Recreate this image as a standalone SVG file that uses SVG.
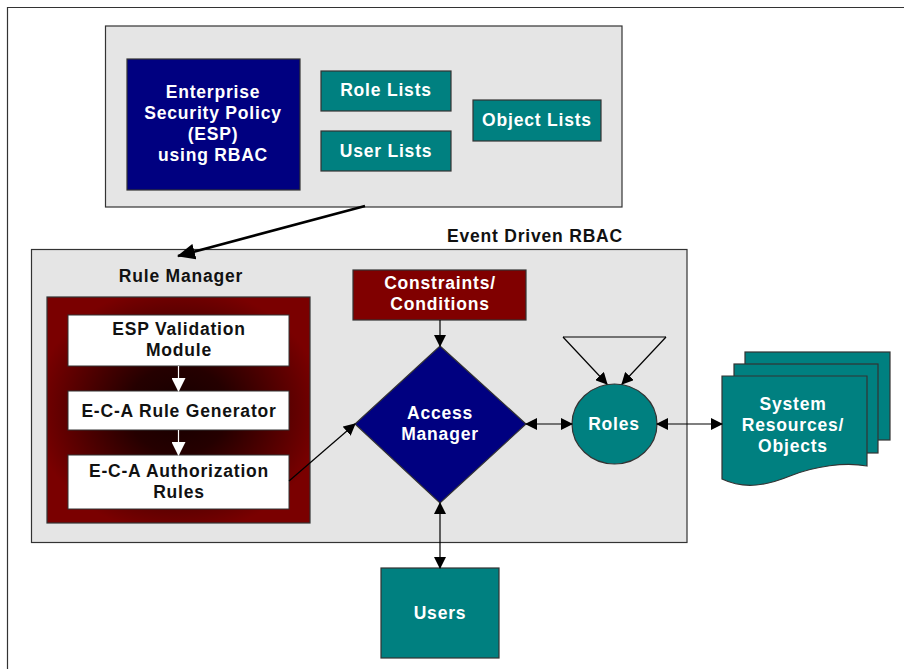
<svg xmlns="http://www.w3.org/2000/svg" width="904" height="669" viewBox="0 0 904 669">
<style>
  text { font-family: "Liberation Sans", Arial, sans-serif; font-weight: bold; font-size: 17.5px; letter-spacing: 0.8px; text-anchor: middle; }
  .w { fill: #ffffff; }
  .k { fill: #111111; }
  .panel { fill: #e5e5e5; stroke: #333333; stroke-width: 1.2; }
  .teal { fill: #008080; stroke: #333333; stroke-width: 1.2; }
  .navy { fill: #000080; stroke: #333333; stroke-width: 1.2; }
  .maroon { fill: #800000; stroke: #333333; stroke-width: 1.2; }
  .white { fill: #ffffff; stroke: #333333; stroke-width: 1; }
  .conn { fill: none; stroke: #000000; stroke-width: 1.2; }
</style>
<defs>
  <marker id="ah" markerUnits="userSpaceOnUse" markerWidth="12" markerHeight="12" refX="11" refY="6" orient="auto-start-reverse" viewBox="0 0 12 12">
    <path d="M0,0 L12,6 L0,12 z" fill="#000000"/>
  </marker>
  <marker id="ahBig" markerUnits="userSpaceOnUse" markerWidth="18" markerHeight="16" refX="17" refY="8" orient="auto" viewBox="0 0 18 16">
    <path d="M0,0 L18,8 L0,16 z" fill="#000000"/>
  </marker>
  <marker id="ahWhite" markerUnits="userSpaceOnUse" markerWidth="14" markerHeight="14" refX="13" refY="7" orient="auto" viewBox="0 0 14 14">
    <path d="M0,0 L14,7 L0,14 z" fill="#ffffff"/>
  </marker>
  <radialGradient id="redGrad" cx="0.5" cy="0.5" r="0.55">
    <stop offset="0" stop-color="#150000"/>
    <stop offset="0.35" stop-color="#250000"/>
    <stop offset="1" stop-color="#7a0000"/>
  </radialGradient>
</defs>

<!-- outer frame -->
<path d="M7.5,669 V7.5 H904" fill="none" stroke="#333333" stroke-width="1.2"/>

<!-- ESP container -->
<g id="esp-panel">
  <rect class="panel" x="105.5" y="26" width="516.5" height="181"/>
</g>
<g id="esp">
  <rect class="navy" x="127" y="59" width="173" height="131"/>
  <text class="w" x="213" y="98">Enterprise</text>
  <text class="w" x="213" y="119">Security Policy</text>
  <text class="w" x="213" y="140">(ESP)</text>
  <text class="w" x="213" y="161">using RBAC</text>
</g>
<g id="role-lists">
  <rect class="teal" x="321" y="71" width="130" height="40"/>
  <text class="w" x="386" y="96">Role Lists</text>
</g>
<g id="user-lists">
  <rect class="teal" x="321" y="131" width="130" height="40"/>
  <text class="w" x="386" y="157">User Lists</text>
</g>
<g id="object-lists">
  <rect class="teal" x="473" y="100" width="128" height="41"/>
  <text class="w" x="537" y="126">Object Lists</text>
</g>

<!-- Event Driven RBAC container -->
<g id="event-driven-rbac">
  <text class="k" x="535" y="242">Event Driven RBAC</text>
  <rect class="panel" x="31.5" y="249.5" width="655.5" height="293"/>
</g>

<!-- Rule Manager -->
<g id="rule-manager">
  <text class="k" x="181" y="282">Rule Manager</text>
  <rect x="47" y="297" width="263" height="226" fill="url(#redGrad)" stroke="#333333" stroke-width="1.2"/>
</g>
<g id="esp-validation">
  <rect class="white" x="68" y="315" width="221" height="51"/>
  <text class="k" x="179" y="335">ESP Validation</text>
  <text class="k" x="179" y="356">Module</text>
</g>
<g id="eca-generator">
  <rect class="white" x="68" y="391" width="221" height="39"/>
  <text class="k" x="179" y="417">E-C-A Rule Generator</text>
</g>
<g id="eca-rules">
  <rect class="white" x="68" y="455" width="221" height="54"/>
  <text class="k" x="179" y="477">E-C-A Authorization</text>
  <text class="k" x="179" y="498">Rules</text>
</g>

<!-- Constraints -->
<g id="constraints">
  <rect class="maroon" x="353" y="270" width="173" height="50"/>
  <text class="w" x="440" y="289">Constraints/</text>
  <text class="w" x="440" y="310">Conditions</text>
</g>

<!-- Access Manager -->
<g id="access-manager">
  <polygon class="navy" points="440,346 526,424 440,503 355,424"/>
  <text class="w" x="440" y="419">Access</text>
  <text class="w" x="440" y="440">Manager</text>
</g>

<!-- Roles -->
<g id="roles">
  <ellipse class="teal" cx="614.5" cy="424" rx="42.5" ry="40"/>
  <text class="w" x="614" y="430">Roles</text>
</g>

<!-- System Resources -->
<g id="system-resources">
  <rect class="teal" x="745" y="352" width="145" height="88"/>
  <rect class="teal" x="734" y="364" width="144" height="89"/>
  <path class="teal" d="M722,376 H867 V466 C845,462 815,466 790,476 C768,485 745,490 722,479 Z"/>
  <text class="w" x="793" y="410">System</text>
  <text class="w" x="793" y="431">Resources/</text>
  <text class="w" x="793" y="452">Objects</text>
</g>

<!-- Users -->
<g id="users">
  <rect class="teal" x="381" y="568" width="118" height="90"/>
  <text class="w" x="440" y="619">Users</text>
</g>

<!-- connectors -->
<g id="connectors">
  <line x1="365" y1="206" x2="178" y2="256" stroke="#000000" stroke-width="2.6" marker-end="url(#ahBig)"/>
  <line x1="178.5" y1="366" x2="178.5" y2="391" stroke="#ffffff" stroke-width="1.2" marker-end="url(#ahWhite)"/>
  <line x1="178.5" y1="430" x2="178.5" y2="455" stroke="#ffffff" stroke-width="1.2" marker-end="url(#ahWhite)"/>
  <line class="conn" x1="289" y1="481" x2="355" y2="424" marker-end="url(#ah)"/>
  <line class="conn" x1="440" y1="320" x2="440" y2="346" marker-end="url(#ah)"/>
  <line class="conn" x1="526" y1="424" x2="572" y2="424" marker-start="url(#ah)" marker-end="url(#ah)"/>
  <line class="conn" x1="657" y1="424" x2="722" y2="424" marker-start="url(#ah)" marker-end="url(#ah)"/>
  <line class="conn" x1="440" y1="503" x2="440" y2="568" marker-start="url(#ah)" marker-end="url(#ah)"/>
  <line class="conn" x1="563" y1="337" x2="666" y2="337"/>
  <line class="conn" x1="563" y1="337" x2="607" y2="384" marker-end="url(#ah)"/>
  <line class="conn" x1="666" y1="337" x2="622" y2="384" marker-end="url(#ah)"/>
</g>
</svg>
